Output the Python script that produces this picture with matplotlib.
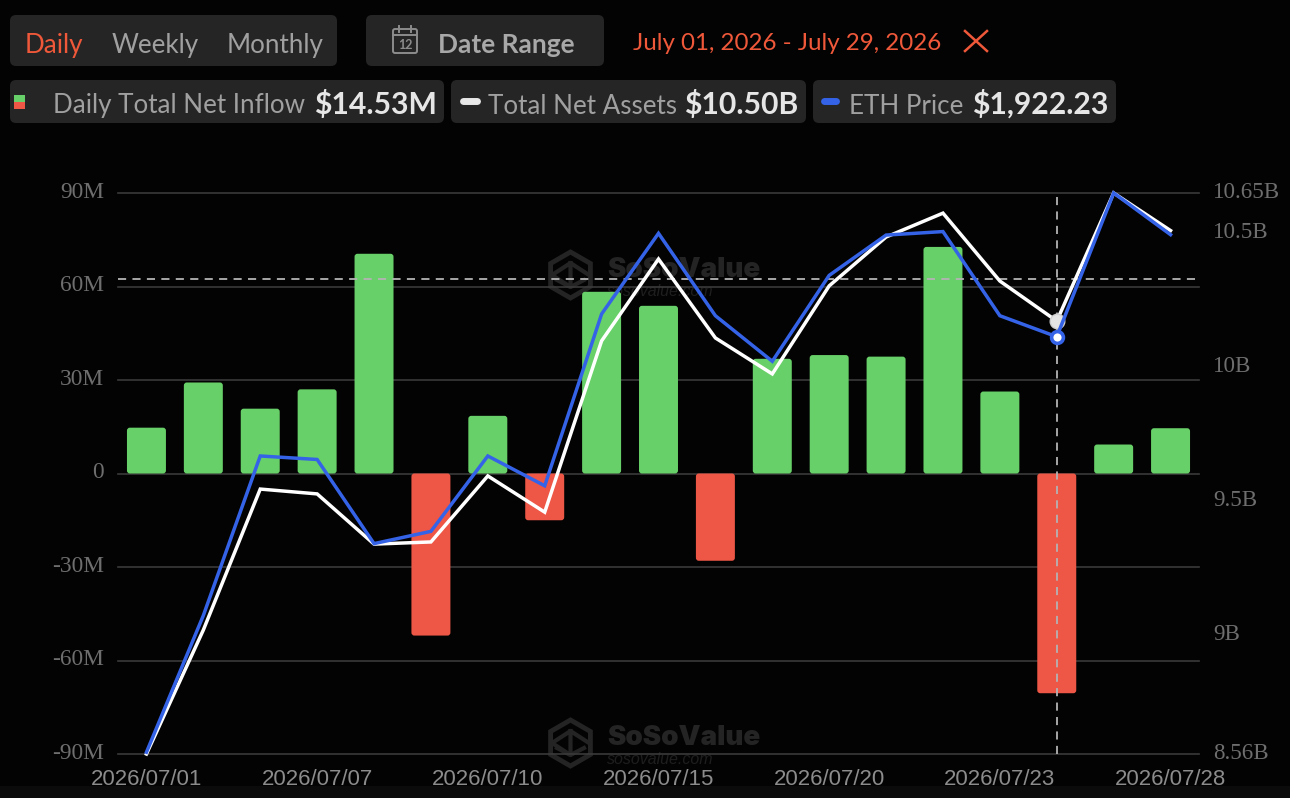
import matplotlib
matplotlib.use('Agg')
import matplotlib.pyplot as plt
from matplotlib.patches import FancyBboxPatch, Rectangle, RegularPolygon
from matplotlib.transforms import ScaledTranslation

# Data
dates = ['2026/07/01', '2026/07/02', '2026/07/06', '2026/07/07', '2026/07/08', '2026/07/09', '2026/07/10',
         '2026/07/13', '2026/07/14', '2026/07/15', '2026/07/16', '2026/07/17', '2026/07/20', '2026/07/21',
         '2026/07/22', '2026/07/23', '2026/07/24', '2026/07/27', '2026/07/28']
net_inflow = [14.7, 29.2, 20.8, 27.0, 70.5, -52.0, 18.5, -15.0, 58.3, 53.8, -28.0, 36.8, 38.0, 37.5,
              72.7, 26.3, -70.5, 9.3, 14.53]
net_assets = [8.56, 9.022, 9.547, 9.529, 9.342, 9.350, 9.596, 9.461, 10.099, 10.404, 10.110, 9.976,
              10.304, 10.486, 10.575, 10.322, 10.173, 10.65, 10.51]
eth_price = [1627, 1705, 1796, 1794, 1746, 1753, 1796, 1779, 1877, 1923, 1876, 1850, 1899, 1922, 1924,
             1876, 1864, 1946, 1922.23]
left_ticks = [-90, -60, -30, 0, 30, 60, 90]
left_labels = ['-90M', '-60M', '-30M', '0', '30M', '60M', '90M']
right_ticks = [8.56, 9, 9.5, 10, 10.5, 10.65]
right_labels = ['8.56B', '9B', '9.5B', '10B', '10.5B', '10.65B']
xtick_idx = [0, 3, 6, 9, 12, 15, 18]
hover_idx = 16
hover_level = 62.3

W, H = 1290, 798
BG = '#030303'
PANEL = '#252525'
GREEN = '#68d068'
RED = '#ee5646'
ORANGE = '#f0583a'
BLUE = '#3563e8'
GRID = '#3a3a3a'
MARK = '#242424'
UI_FONT = 'Lato'

fig = plt.figure(figsize=(W / 100, H / 100), dpi=100, facecolor=BG)

# page layer in pixel coordinates, sits under the chart
ui = fig.add_axes([0, 0, 1, 1], zorder=0)
ui.set_xlim(0, W)
ui.set_ylim(H, 0)
ui.axis('off')
ui.add_patch(Rectangle((0, 786), W, 12, color='#0b0b0b', lw=0))


def panel(x0, y0, x1, y1):
    ui.add_patch(FancyBboxPatch((x0, y0), x1 - x0, y1 - y0, boxstyle='round,pad=0,rounding_size=6',
                                fc=PANEL, ec='none'))


def label(x, y, s, color='#a0a0a0', size=18.7, weight='normal', ha='left'):
    ui.text(x, y, s, color=color, fontsize=size, fontweight=weight, ha=ha, va='center', family=UI_FONT)


panel(10, 15, 337, 66)
panel(366, 15, 604, 66)
panel(10, 80, 444, 123)
panel(451, 80, 806, 123)
panel(813, 80, 1116, 123)

label(25, 45, 'Daily', ORANGE)
label(112, 45, 'Weekly')
label(227, 45, 'Monthly')
label(438, 45, 'Date Range', '#a8a8a8', 19, 'bold')
label(633, 43, 'July 01, 2026 - July 29, 2026', ORANGE, 17.4)

# calendar icon
ui.add_patch(FancyBboxPatch((393, 29), 24, 24, boxstyle='round,pad=0,rounding_size=2', fc='none', ec='#8c8c8c', lw=1.4))
ui.plot([393, 417], [35, 35], color='#8c8c8c', lw=1.4)
ui.plot([399, 399], [26, 32], color='#8c8c8c', lw=1.4)
ui.plot([411, 411], [26, 32], color='#8c8c8c', lw=1.4)
ui.text(405, 45, '12', color='#8c8c8c', fontsize=9, ha='center', va='center', family=UI_FONT, fontweight='bold')

# close cross
ui.plot([965, 987], [31, 51], color=ORANGE, lw=1.8)
ui.plot([987, 965], [31, 51], color=ORANGE, lw=1.8)

# legend row
ui.add_patch(Rectangle((14, 95), 11, 7, color=GREEN, lw=0))
ui.add_patch(Rectangle((14, 102), 11, 7, color=RED, lw=0))
label(53, 106, 'Daily Total Net Inflow')
label(314, 104, '$14.53M', '#e6e6e6', 21.7, 'bold')
ui.plot([463, 477], [101, 101], color='#e8e8e8', lw=5, solid_capstyle='round')
label(488, 106, 'Total Net Assets')
label(684, 104, '$10.50B', '#e6e6e6', 21.7, 'bold')
ui.plot([824, 836], [101, 101], color=BLUE, lw=5, solid_capstyle='round')
label(849, 106, 'ETH Price')
label(972, 104, '$1,922.23', '#e6e6e6', 21.7, 'bold')

# watermarks
for wy in (275, 743):
    ui.add_patch(RegularPolygon((570.5, wy), 6, radius=23, fc='none', ec=MARK, lw=3.5))
    ui.plot([570.5, 570.5, 552, 570.5, 589], [wy - 12, wy + 12, wy, wy - 12, wy], color=MARK, lw=3)
    ui.plot([557, 570.5, 584], [wy + 5, wy + 12, wy + 5], color=MARK, lw=3)
    ui.text(607, wy - 5, 'SoSoValue', color=MARK, fontsize=20, fontweight='black', ha='left', va='center',
            family='Inter')
    ui.text(607, wy + 16, 'sosovalue.com', color='#1e1e1e', fontsize=11.5, style='italic', ha='left', va='center',
            family='Liberation Sans')

# chart
ax = fig.add_axes([118 / W, 1 - 754 / H, (1199 - 118) / W, (754 - 193) / H], zorder=1)
ax.patch.set_alpha(0)
for s in ax.spines.values():
    s.set_visible(False)
ax.set_xlim(-0.5, len(dates) - 0.5)
ax.set_ylim(-90, 90)
ax.set_yticks(left_ticks)
ax.set_yticklabels(left_labels, family='Liberation Serif', fontsize=16.8, color='#6e6e6e')
ax.set_xticks(xtick_idx)
ax.set_xticklabels([dates[i] for i in xtick_idx], family='Liberation Sans', fontsize=16, color='#8c8c8c')
ax.tick_params(axis='both', length=0)
ax.tick_params(axis='y', pad=10)
ax.tick_params(axis='x', pad=11)
ax.grid(axis='y', color=GRID, lw=1.2, zorder=0, clip_on=False)
ax.set_axisbelow(True)

# bars, rounded a little like the original
bars = ax.bar(range(len(dates)), net_inflow, width=0.685, color='none', zorder=2)
for b, v in zip(bars, net_inflow):
    ax.add_patch(FancyBboxPatch((b.get_x(), min(0, v)), b.get_width(), abs(v),
                                boxstyle='round,pad=0,rounding_size=0.05', mutation_aspect=19,
                                fc=GREEN if v >= 0 else RED, ec='none', zorder=2))

ax2 = ax.twinx()
ax2.patch.set_alpha(0)
for s in ax2.spines.values():
    s.set_visible(False)
ax2.set_ylim(8.56, 10.65)
ax2.set_yticks(right_ticks)
ax2.set_yticklabels(right_labels, family='Liberation Serif', fontsize=16.6, color='#6e6e6e')
ax2.tick_params(axis='y', length=0, pad=10)
ax2.plot(range(len(dates)), net_assets, color='white', lw=2.5, zorder=3, solid_joinstyle='miter', clip_on=False)
ax2.plot(hover_idx, net_assets[hover_idx], 'o', ms=10.5, mfc='#e4e4e4', mec='#cfcfcf', mew=1, zorder=6)

ax3 = ax.twinx()
ax3.patch.set_alpha(0)
for s in ax3.spines.values():
    s.set_visible(False)
ax3.set_ylim(1626, 1946)
ax3.set_yticks([])
ax3.plot(range(len(dates)), eth_price, color=BLUE, lw=2.5, zorder=4, solid_joinstyle='miter', clip_on=False)
ax3.plot(hover_idx, eth_price[hover_idx], 'o', ms=8.5, mfc='white', mec=BLUE, mew=2.6, zorder=6)

# hover crosshair
ax.axhline(hover_level, color='#b4b4b4', lw=1.3, ls=(0, (4.5, 3.5)), zorder=5)
ax.axvline(hover_idx, color='#b4b4b4', lw=1.3, ls=(0, (4.5, 3.5)), zorder=5)

# axis labels sit a little above their grid lines
shift = ScaledTranslation(0, 2.5 / 72, fig.dpi_scale_trans)
for t in ax.get_yticklabels() + ax2.get_yticklabels():
    t.set_transform(t.get_transform() + shift)

fig.savefig('out.png', dpi=100, facecolor=BG)
